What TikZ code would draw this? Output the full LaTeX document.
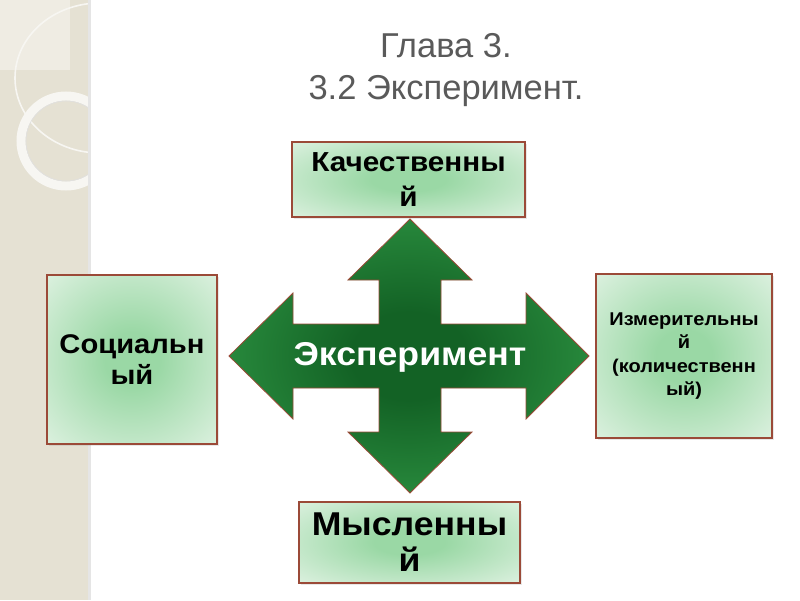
\documentclass[tikz,border=0pt]{standalone}
\usepackage{fontspec}
\setmainfont{Liberation Sans}
\newfontfamily\widebold[FakeStretch=1.08]{Liberation Sans Bold}
\usetikzlibrary{positioning, shadows}

\definecolor{sidebeige}{HTML}{E5E1D3}
\definecolor{sidelight}{HTML}{EFECE3}
\definecolor{ringwhite}{HTML}{F7F6F2}
\definecolor{boxgreen}{HTML}{9AD8A5}
\definecolor{boxpale}{HTML}{DDF1E0}
\definecolor{boxedge}{HTML}{9B4A38}
\definecolor{crossdark}{HTML}{136225}
\definecolor{crossgreen}{HTML}{34A04A}
\definecolor{titlegray}{HTML}{5A5A5A}

\pgfdeclareradialshading{boxglow}{\pgfpoint{0bp}{0bp}}{color(0bp)=(boxgreen); color(8bp)=(boxgreen); color(36bp)=(boxpale); color(50bp)=(boxpale)}
\pgfdeclareradialshading{crossglow}{\pgfpoint{0bp}{0bp}}{color(0bp)=(crossdark); color(8bp)=(crossdark); color(36bp)=(crossgreen); color(50bp)=(crossgreen)}

\tikzset{
  kindbox/.style={draw=boxedge, line width=2pt, shading=boxglow, align=center,
    inner sep=2pt, drop shadow={opacity=0.18, shadow xshift=2pt, shadow yshift=-2pt}},
  titletext/.style={text=titlegray, font=\fontsize{34.5}{40}\selectfont},
}

\begin{document}
\begin{tikzpicture}[x=1pt, y=-1pt]
  \useasboundingbox (0,0) rectangle (800,600);
  \fill[white] (0,0) rectangle (800,600);

  % side strip
  \fill[sidebeige] (0,0) rectangle (88,600);
  \fill[sidelight] (0,0) rectangle (70,70);
  \begin{scope}
    \clip (0,0) rectangle (88,600);
    \draw[ringwhite, line width=1.6pt] (100,78) ellipse [x radius=85, y radius=75];
    \draw[ringwhite, line width=9pt] (66,141) circle [radius=45];
    \draw[black!12, line width=0.6pt] (66,141) circle [radius=40];
  \end{scope}
  \fill[black!10] (88,0) rectangle (91,600);

  % title
  \node[titletext, anchor=base] (head) at (446,57) {Глава 3.};
  \node[titletext, anchor=base] (sub) at (446,99) {3.2 Эксперимент.};

  % cross
  \draw[boxedge, line width=0.8pt, shading=crossglow]
    (410,219) -- (472,280) -- (441,280) -- (441,324) -- (526,324) -- (526,293)
    -- (589,356) -- (526,419) -- (526,388) -- (441,388) -- (441,432) -- (472,432)
    -- (410,493) -- (348,432) -- (379,432) -- (379,388) -- (293,388) -- (293,419)
    -- (229,356) -- (293,293) -- (293,324) -- (379,324) -- (379,280) -- (348,280)
    -- cycle;
  \node[text=white, font=\fontsize{33}{38}\widebold\selectfont] (core) at (410,357) {Эксперимент};

  % kinds of experiment
  \node[kindbox, minimum width=233, minimum height=75,
        font=\fontsize{27.5}{35}\widebold\selectfont] (quality) at (408.5,179.5) {Качественны\\й};
  \node[kindbox, minimum width=170, minimum height=169,
        font=\fontsize{27}{31}\widebold\selectfont] (social) at (132,359.5) {Социальн\\ый};
  \node[kindbox, minimum width=176, minimum height=164,
        font=\fontsize{18.5}{23.5}\widebold\selectfont] (measure) at (684,356) {Измерительны\\й\\(количественн\\ый)};
  \node[kindbox, minimum width=221, minimum height=81,
        font=\fontsize{33}{36}\widebold\selectfont] (mental) at (409.5,542) {Мысленны\\й};
\end{tikzpicture}
\end{document}
